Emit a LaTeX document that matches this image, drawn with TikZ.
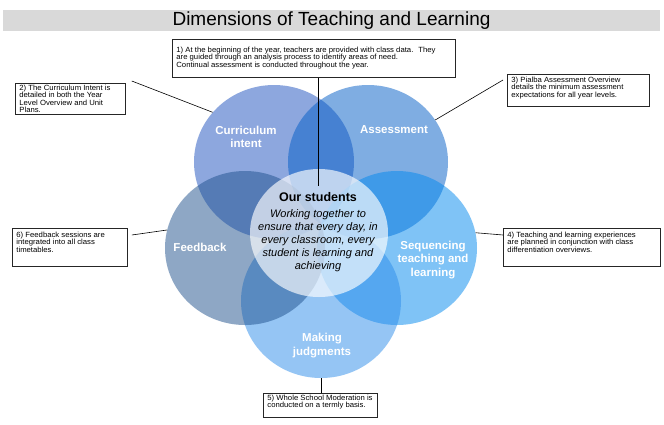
\documentclass[tikz,border=0pt]{standalone}
\usepackage{fontspec}
\setmainfont{Liberation Sans}
\newfontfamily\notefont[FakeStretch=1.03]{Liberation Sans}
\usetikzlibrary{shapes.geometric}

\definecolor{curcol}{RGB}{29,81,191}
\definecolor{asscol}{RGB}{0,93,199}
\definecolor{seqcol}{RGB}{0,137,239}
\definecolor{judcol}{RGB}{45,141,235}
\definecolor{fbcol}{RGB}{31,81,141}
\definecolor{titlegrey}{RGB}{217,217,217}

\tikzset{
  blob/.style={ellipse,minimum width=160pt,minimum height=154pt,inner sep=0pt,fill opacity=0.5},
  blobtext/.style={text=white,align=center,font=\fontsize{11.5}{13.5}\selectfont\bfseries},
  notebox/.style={draw=black!85,line width=0.8pt,fill=white,inner xsep=4pt,inner ysep=0pt,
    anchor=north west,font=\notefont\fontsize{7.5}{7.5}\selectfont},
  link/.style={draw=black,line width=0.6pt}
}
% width, height, top gap, text
\newcommand{\notetext}[4]{\parbox[c][#2][t]{#1}{\raggedright\vspace*{#3}#4}}

\begin{document}
\begin{tikzpicture}[x=1pt,y=-1pt]
\useasboundingbox[fill=white] (0,0) rectangle (664,424);
\path (331.5,20.5) node[fill=titlegrey,minimum width=657pt,minimum height=21pt,inner sep=0pt,
  font=\fontsize{19}{20}\selectfont] (title) {Dimensions of Teaching and Learning};

% the five circles
\path (274,162) node[blob,fill=curcol] (cur) {};
\path (368,162) node[blob,fill=asscol] (ass) {};
\path (397,248) node[blob,fill=seqcol] (seq) {};
\path (321,301) node[blob,fill=judcol] (jud) {};
\path (245,248) node[blob,fill=fbcol] (fb) {};
\path (319,233) node[ellipse,minimum width=138pt,minimum height=128pt,inner sep=0pt,
  fill=white,fill opacity=0.65] (ctr) {};

\path (246,137) node[blobtext] (cur-lbl) {Curriculum\\intent};
\path (394,130) node[blobtext] (ass-lbl) {Assessment};
\path (433,260) node[blobtext] (seq-lbl) {Sequencing\\teaching and\\learning};
\path (322,345.5) node[blobtext] (jud-lbl) {Making\\judgments};
\path (200,247) node[blobtext] (fb-lbl) {Feedback};

\path (318,197.5) node[inner sep=0pt,font=\fontsize{12.5}{14}\selectfont\bfseries] (ctr-title) {Our students};
\path (318,240.5) node[inner sep=0pt,align=center,font=\fontsize{11}{13}\selectfont\itshape] (ctr-text)
  {Working together to\\ensure that every day, in\\every classroom, every\\student is learning and\\achieving};

% note boxes
\path (172,39) node[notebox] (n1) {\notetext{275pt}{38pt}{7.6pt}{1) At the beginning of the year, teachers are provided with class data.~ They\\are guided through an analysis process to identify areas of need.\\Continual assessment is conducted throughout the year.}};
\path (15,83) node[notebox] (n2) {\notetext{102pt}{31pt}{1.6pt}{2) The Curriculum Intent is\\detailed in both the Year\\Level Overview and Unit\\Plans.}};
\path (507,74) node[notebox] (n3) {\notetext{134pt}{32pt}{2.6pt}{3) Pialba Assessment Overview\\details the minimum assessment\\expectations for all year levels.}};
\path (503,228) node[notebox] (n4) {\notetext{149pt}{38pt}{3.6pt}{4) Teaching and learning experiences\\are planned in conjunction with class\\differentiation overviews.}};
\path (263,393) node[notebox] (n5) {\notetext{106pt}{24pt}{1.6pt}{5) Whole School Moderation is\\conducted on a termly basis.}};
\path (12,228) node[notebox] (n6) {\notetext{107pt}{38pt}{3.6pt}{6) Feedback sessions are\\integrated into all class\\timetables.}};

% connectors
\coordinate (ctr-top) at (318,186);
\draw[link] (ctr-top |- n1.south) -- (ctr-top);
\draw[link] ([xshift=6pt,yshift=2pt]n2.north east) -- (cur.141);
\draw[link] (ass.32) -- ([xshift=-4pt,yshift=-6pt]n3.north west);
\draw[link] (seq.11) -- ([yshift=-7pt]n4.north west);
\draw[link] (jud.south) -- (jud.south |- n5.north);
\draw[link] (fb.167) -- ([xshift=4pt,yshift=-7pt]n6.north east);
\end{tikzpicture}
\end{document}
